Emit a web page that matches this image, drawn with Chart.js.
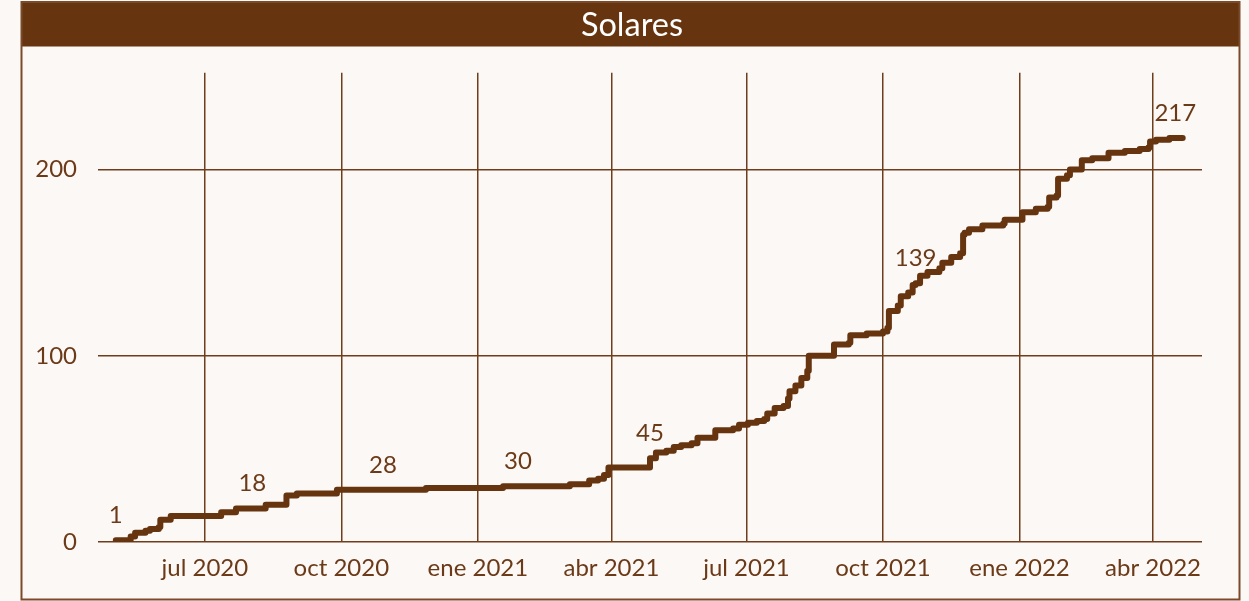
<!DOCTYPE html>
<html>
<head>
<meta charset="utf-8">
<script src="https://cdn.jsdelivr.net/npm/chart.js@4.4.1/dist/chart.umd.min.js"></script>
<style>
html,body{margin:0;padding:0;background:#fcf8f5;}
canvas{display:block;}
</style>
</head>
<body>
<canvas id="c" width="1249" height="601"></canvas>
<script>
// ---- data ----
const dates = [
 '2020-05-02','2020-05-12','2020-05-15','2020-05-22','2020-05-25','2020-05-31','2020-06-01','2020-06-08',
 '2020-07-12','2020-07-22','2020-08-02','2020-08-11','2020-08-25','2020-09-01','2020-09-28','2020-10-29',
 '2020-11-27','2021-01-18','2021-01-28','2021-03-04','2021-03-17','2021-03-23','2021-03-27','2021-03-30',
 '2021-04-27','2021-05-01','2021-05-08','2021-05-13','2021-05-18','2021-05-25','2021-05-29','2021-06-10',
 '2021-06-22','2021-06-26','2021-07-02','2021-07-08','2021-07-13','2021-07-15','2021-07-20','2021-07-26',
 '2021-07-29','2021-07-30','2021-08-03','2021-08-07','2021-08-11','2021-08-12','2021-08-29','2021-09-08',
 '2021-09-09','2021-09-20','2021-10-01','2021-10-04','2021-10-05','2021-10-11','2021-10-13','2021-10-18',
 '2021-10-21','2021-10-23','2021-10-26','2021-10-31','2021-11-08','2021-11-10','2021-11-16','2021-11-22',
 '2021-11-24','2021-11-25','2021-11-28','2021-12-07','2021-12-21','2021-12-22','2022-01-03','2022-01-12',
 '2022-01-20','2022-01-21','2022-01-26','2022-01-27','2022-02-02','2022-02-04','2022-02-12','2022-02-19',
 '2022-03-02','2022-03-13','2022-03-23','2022-03-29','2022-03-30','2022-04-03','2022-04-12','2022-04-16',
 '2022-04-21'
];
const values = [
 1,3,5,6,7,8,12,14,
 16,18,18,20,25,26,28,28,
 29,30,30,31,33,34,36,40,
 45,48,49,51,52,53,56,60,
 61,63,64,65,66,69,72,73,
 77,81,84,88,92,100,106,107,
 111,112,113,115,124,127,132,134,
 138,139,143,145,147,150,153,155,
 165,166,168,170,171,173,177,179,
 180,185,186,195,197,200,205,206,
 209,210,211,212,215,216,217,217,
 217
];
// dates whose value is printed above the line
const labelDates = ['2020-05-02','2020-08-02','2020-10-29','2021-01-28','2021-04-27','2021-10-23','2022-04-16'];
const xTickDates = ['2020-07-01','2020-10-01','2021-01-01','2021-04-01','2021-07-01','2021-10-01','2022-01-01','2022-04-01'];
const xTickLabels = ['jul 2020','oct 2020','ene 2021','abr 2021','jul 2021','oct 2021','ene 2022','abr 2022'];
const yTicks = [0,100,200];
const xRange = ['2020-04-20','2022-05-04'];
const yMax = 252;
const title = 'Solares';

// ---- helpers ----
function dayNum(s){const p=s.split('-').map(Number);return Date.UTC(p[0],p[1]-1,p[2])/864e5;}
const points = dates.map((d,i)=>({x:dayNum(d),y:values[i]}));
const labelIdx = labelDates.map(d=>dates.indexOf(d));

const BROWN = '#673410';
const GRID = '#6e3d1c';
const TEXT = '#6b3a18';
const FONT = 'Lato';

const framePlugin = {
  id:'frame',
  beforeDraw(chart){
    const ctx=chart.ctx;
    ctx.save();
    ctx.fillStyle='#fcf8f5';
    ctx.fillRect(0,0,chart.width,chart.height);
    ctx.fillStyle=BROWN;
    ctx.fillRect(21,2,1219,44.5);
    ctx.restore();
  },
  afterDraw(chart){
    const ctx=chart.ctx;
    ctx.save();
    ctx.strokeStyle='#7a4a2a';
    ctx.lineWidth=2;
    ctx.strokeRect(21.5,2,1218,597.5);
    ctx.restore();
  }
};
const valueLabels = {
  id:'valueLabels',
  afterDatasetsDraw(chart){
    const ctx=chart.ctx;
    const meta=chart.getDatasetMeta(0);
    ctx.save();
    ctx.font='24px '+FONT;
    ctx.fillStyle=TEXT;
    ctx.textAlign='center';
    ctx.textBaseline='middle';
    labelIdx.forEach(i=>{
      const el=meta.data[i];
      ctx.fillText(String(values[i]),el.x,el.y-25);
    });
    ctx.restore();
  }
};

new Chart(document.getElementById('c'),{
  type:'line',
  data:{datasets:[{
    data:points,
    borderColor:BROWN,
    borderWidth:6,
    pointRadius:0,
    stepped:'before',
    borderCapStyle:'round',
    borderJoinStyle:'round',
    fill:false
  }]},
  options:{
    responsive:false,
    animation:false,
    devicePixelRatio:1,
    layout:{padding:{left:15,right:0,top:0,bottom:0}},
    plugins:{
      legend:{display:false},
      tooltip:{enabled:false},
      title:{display:true,text:title,color:'#ffffff',
        font:{family:FONT,size:32.5,weight:'normal'},
        padding:{top:6.5,bottom:27.2}}
    },
    scales:{
      x:{
        type:'linear',
        min:dayNum(xRange[0]),max:dayNum(xRange[1]),
        grid:{color:GRID,lineWidth:1.5,drawTicks:false},
        border:{display:false},
        afterBuildTicks(s){s.ticks=xTickDates.map(d=>({value:dayNum(d)}));},
        afterFit(s){s.height=59;},
        ticks:{color:TEXT,font:{family:FONT,size:24},padding:12,autoSkip:false,maxRotation:0,
          callback:(v,i)=>xTickLabels[i]}
      },
      y:{
        min:0,max:yMax,
        grid:{color:GRID,lineWidth:1.5,drawTicks:false},
        border:{display:false},
        afterBuildTicks(s){s.ticks=yTicks.map(v=>({value:v}));},
        afterFit(s){s.width=83;},
        ticks:{color:TEXT,font:{family:FONT,size:24},padding:21}
      },
      yRight:{
        position:'right',
        min:0,max:yMax,
        grid:{display:false,drawTicks:false},
        border:{display:false},
        ticks:{display:false},
        afterFit(s){s.width=47;}
      }
    }
  },
  plugins:[framePlugin,valueLabels]
});
</script>
</body>
</html>
